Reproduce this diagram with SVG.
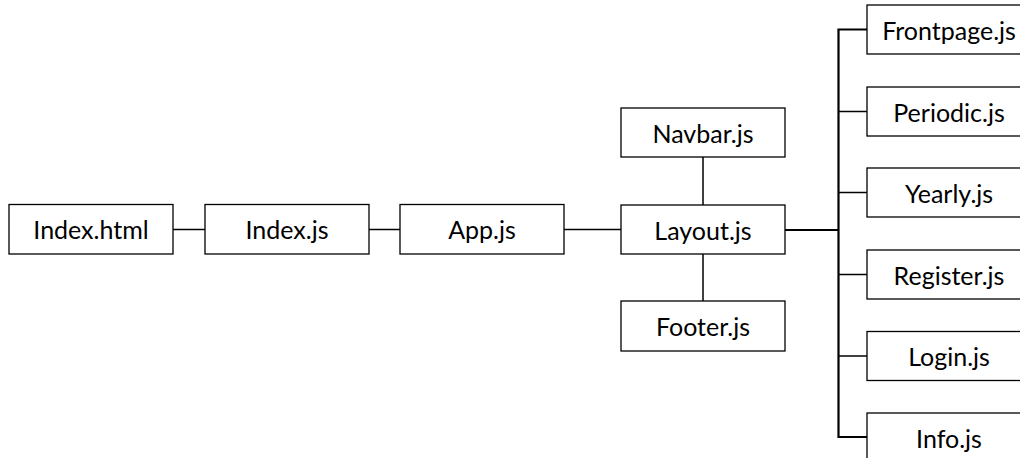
<svg xmlns="http://www.w3.org/2000/svg" width="1020" height="458" viewBox="0 0 1020 458">
<style>
.box{fill:#fff;stroke:#000;stroke-width:1.3}
.lbl{font-family:"Lato","Liberation Sans",sans-serif;font-size:25px;fill:#000;text-anchor:middle}
.c{stroke:#000;stroke-width:1.5;fill:none}
.t{stroke:#000;stroke-width:2.2;fill:none}
</style>
<rect width="1020" height="458" fill="#fff"/>
<g id="connectors">
<line class="c" x1="173" y1="229.5" x2="205" y2="229.5"/>
<line class="c" x1="369" y1="229.5" x2="400" y2="229.5"/>
<line class="c" x1="564" y1="229.5" x2="621" y2="229.5"/>
<line class="c" x1="703" y1="157" x2="703" y2="205"/>
<line class="c" x1="703" y1="254" x2="703" y2="301"/>
<line class="t" x1="785" y1="230" x2="838" y2="230"/>
<polyline class="t" points="867,29.5 838.5,29.5 838.5,437 867,437"/>
<line class="c" x1="838" y1="111.5" x2="867" y2="111.5"/>
<line class="c" x1="838" y1="192.5" x2="867" y2="192.5"/>
<line class="c" x1="838" y1="274.5" x2="867" y2="274.5"/>
<line class="c" x1="838" y1="356" x2="867" y2="356"/>
</g>
<g id="index-html"><rect class="box" x="9" y="204.5" width="164" height="49.5"/><text class="lbl" x="91" y="239">Index.html</text></g>
<g id="index-js"><rect class="box" x="205" y="204.5" width="164" height="49.5"/><text class="lbl" x="287" y="239">Index.js</text></g>
<g id="app-js"><rect class="box" x="400" y="204.5" width="164" height="49.5"/><text class="lbl" x="482" y="239">App.js</text></g>
<g id="layout-js"><rect class="box" x="621" y="205" width="164" height="49"/><text class="lbl" x="703" y="239.5">Layout.js</text></g>
<g id="navbar-js"><rect class="box" x="621" y="108" width="164" height="49"/><text class="lbl" x="703" y="142.5">Navbar.js</text></g>
<g id="footer-js"><rect class="box" x="621" y="301" width="164" height="50"/><text class="lbl" x="703" y="335.5">Footer.js</text></g>
<g id="frontpage-js"><rect class="box" x="867" y="5" width="164" height="49"/><text class="lbl" x="949" y="39.5">Frontpage.js</text></g>
<g id="periodic-js"><rect class="box" x="867" y="87" width="164" height="49"/><text class="lbl" x="949" y="121.5">Periodic.js</text></g>
<g id="yearly-js"><rect class="box" x="867" y="168" width="164" height="49"/><text class="lbl" x="949" y="202.5">Yearly.js</text></g>
<g id="register-js"><rect class="box" x="867" y="250" width="164" height="49"/><text class="lbl" x="949" y="284.5">Register.js</text></g>
<g id="login-js"><rect class="box" x="867" y="331.5" width="164" height="49"/><text class="lbl" x="949" y="366">Login.js</text></g>
<g id="info-js"><rect class="box" x="867" y="413" width="164" height="49"/><text class="lbl" x="949" y="447.5">Info.js</text></g>
</svg>
